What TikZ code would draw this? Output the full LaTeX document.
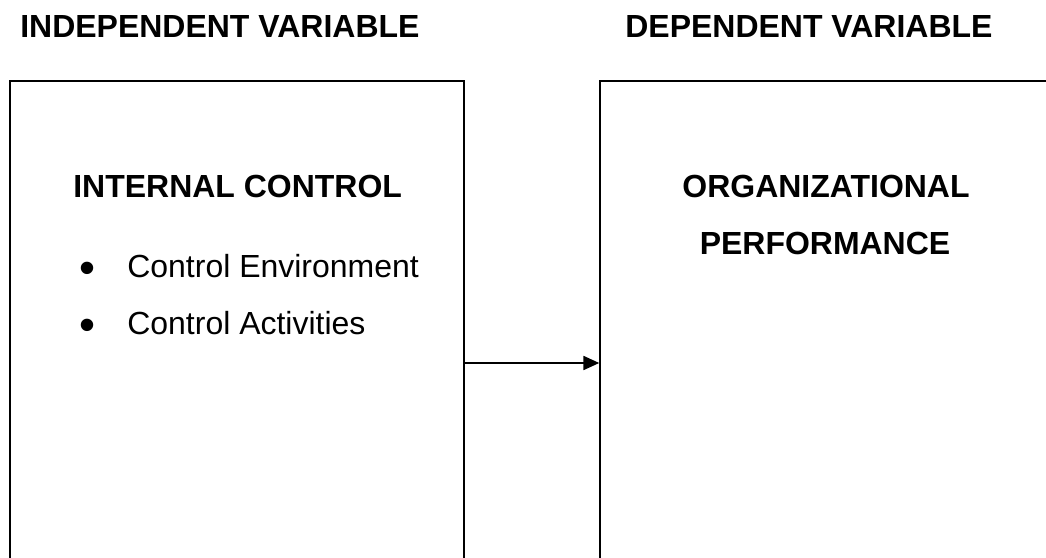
\documentclass[tikz,border=0pt]{standalone}
\usepackage{fontspec}
\setmainfont{Liberation Sans}
\usetikzlibrary{arrows.meta}

\tikzset{
    varbox/.style={draw, line width=0.9pt, minimum width=9.08cm, minimum height=11.28cm, inner sep=0pt},
    head/.style={inner sep=0pt, font=\fontsize{18.2}{22}\selectfont\bfseries},
    item/.style={inner sep=0pt, anchor=base west, font=\fontsize{18.2}{22}\selectfont},
    dot/.style={inner sep=0pt, anchor=center, font=\fontsize{26}{30}\selectfont}
}

\begin{document}
\begin{tikzpicture}[x=0.02cm, y=-0.02cm]
    \useasboundingbox (0, 0) rectangle (1046, 558);
    \clip (0, 0) rectangle (1046, 558);

    \node[varbox] (ivbox) at (237, 363) {};
    \node[varbox, minimum width=10cm] (dvbox) at (850, 363) {};

    \node[head, anchor=base west] (ivtitle) at (20, 37) {INDEPENDENT VARIABLE};
    \node[head, anchor=base west] (dvtitle) at (625, 37) {DEPENDENT VARIABLE};

    \node[head, anchor=base west] (ic) at (73, 197) {INTERNAL CONTROL};
    \node[dot] (b1) at (87, 273) {\textbullet};
    \node[item] (ce) at (127, 277) {Control Environment};
    \node[dot] (b2) at (87, 330) {\textbullet};
    \node[item] (ca) at (127, 334) {Control Activities};

    \node[head, anchor=base] (op1) at (826, 197) {ORGANIZATIONAL};
    \node[head, anchor=base] (op2) at (825, 254) {PERFORMANCE};

    \draw[-{Triangle[length=9pt, width=8pt]}, line width=0.9pt] (ivbox) -- (dvbox);
\end{tikzpicture}
\end{document}
